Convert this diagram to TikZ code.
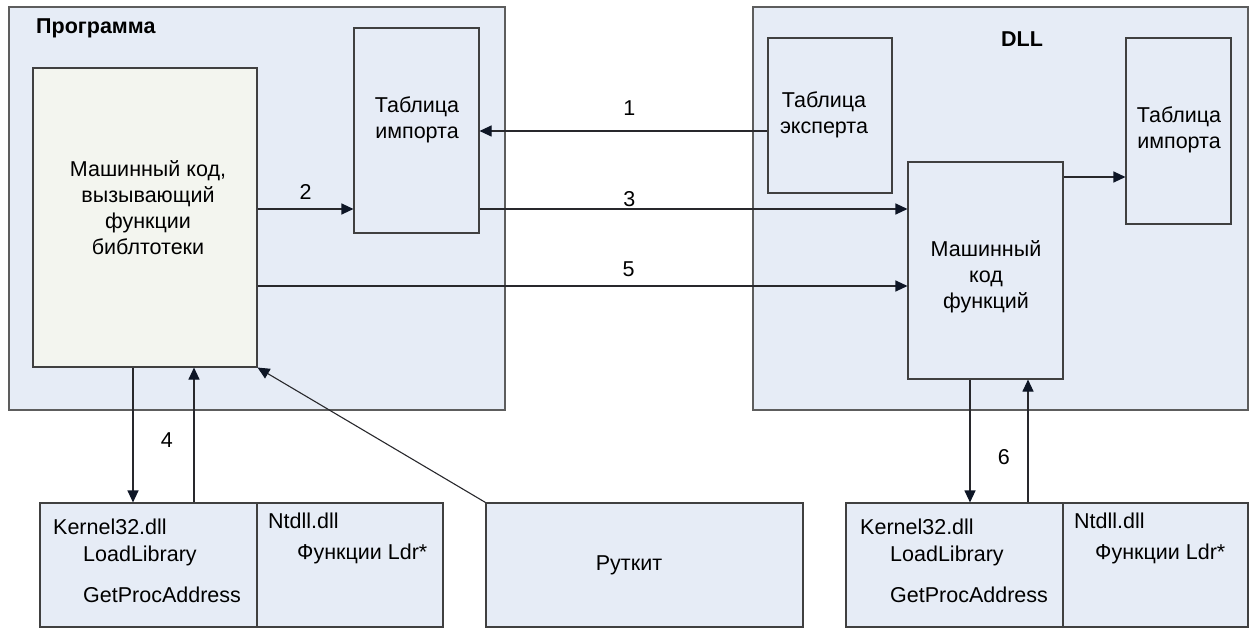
\documentclass[tikz,border=0pt]{standalone}
\usepackage{fontspec}
\setmainfont{Liberation Sans}
\usetikzlibrary{arrows.meta, positioning}
\newcommand\diagfont{\fontsize{21.5}{26}\selectfont}
\definecolor{panelblue}{RGB}{230,236,246}
\definecolor{codegreen}{RGB}{243,245,239}
\definecolor{edgegray}{RGB}{64,64,64}
\definecolor{linegray}{RGB}{40,40,44}
\definecolor{tipnavy}{RGB}{14,22,38}
\tikzstyle{panel} = [
  rectangle,
  draw=edgegray!85,
  fill=panelblue,
  line width=1.2pt,
  inner sep=0pt
]
\tikzstyle{block} = [
  rectangle,
  draw=edgegray,
  fill=panelblue,
  line width=1.1pt,
  inner sep=0pt
]
\tikzstyle{caption} = [align=center, font=\diagfont]
\tikzstyle{entry} = [anchor=base west, inner sep=0pt, font=\diagfont]
\tikzstyle{arrow} = [draw=linegray, line width=1.1pt, -{Triangle[length=12pt,width=11pt,color=tipnavy]}, font=\diagfont]

\begin{document}
\begin{tikzpicture}[x=1pt, y=-1pt]
    \useasboundingbox (0,0) rectangle (1249,628);
    % containers
    \node (program) [panel, minimum width=496pt, minimum height=403pt] at (257,208.5) {};
    \node (dll) [panel, minimum width=495pt, minimum height=403pt] at (1000.5,208.5) {};
    \node (program-title) [anchor=base west, inner sep=0pt, font=\diagfont\bfseries] at (36,34) {Программа};
    \node (dll-title) [anchor=base, inner sep=0pt, font=\diagfont\bfseries] at (1022,47) {DLL};

    % blocks inside the program
    \node (prog-code) [block, fill=codegreen, minimum width=224pt, minimum height=299pt] at (145,217.5) {};
    \node (prog-import) [block, minimum width=125pt, minimum height=205pt] at (416.5,130.5) {};
    \node (prog-code-text) [caption] at (148,208) {Машинный код,\\вызывающий\\функции\\библтотеки};
    \node (prog-import-text) [caption] at (417,120) {Таблица\\импорта};

    % blocks inside the dll
    \node (dll-export) [block, minimum width=124pt, minimum height=155pt] at (830,115.5) {};
    \node (dll-code) [block, minimum width=155pt, minimum height=217pt] at (985.5,270.5) {};
    \node (dll-import) [block, minimum width=105pt, minimum height=186pt] at (1178.5,131) {};
    \node (dll-export-text) [caption] at (824,115) {Таблица\\эксперта};
    \node (dll-code-text) [caption] at (986,277) {Машинный\\код\\функций};
    \node (dll-import-text) [caption] at (1179,130) {Таблица\\импорта};

    % system libraries and rootkit
    \node (k32-left) [block, minimum width=217pt, minimum height=124pt] at (148.5,565) {};
    \node (ntdll-left) [block, minimum width=186pt, minimum height=124pt] at (350,565) {};
    \node (rootkit) [block, minimum width=317pt, minimum height=124pt] at (644.5,565) {};
    \node (k32-right) [block, minimum width=217pt, minimum height=124pt] at (954.5,565) {};
    \node (ntdll-right) [block, minimum width=185pt, minimum height=124pt] at (1155.5,565) {};
    \node (rootkit-text) [caption] at (629,565) {Руткит};

    \node (k32-left-name) [entry] at (53,534) {Kernel32.dll};
    \node (k32-left-load) [entry] at (83,561) {LoadLibrary};
    \node (k32-left-proc) [entry] at (83,602) {GetProcAddress};
    \node (ntdll-left-name) [entry] at (268,528) {Ntdll.dll};
    \node (ntdll-left-ldr) [entry] at (297,559) {Функции Ldr*};
    \node (k32-right-name) [entry] at (860,534) {Kernel32.dll};
    \node (k32-right-load) [entry] at (890,561) {LoadLibrary};
    \node (k32-right-proc) [entry] at (890,602) {GetProcAddress};
    \node (ntdll-right-name) [entry] at (1074,528) {Ntdll.dll};
    \node (ntdll-right-ldr) [entry] at (1095,559) {Функции Ldr*};

    % rows and columns of the connectors
    \coordinate (row1) at (0,131);
    \coordinate (row2) at (0,209);
    \coordinate (row-dll) at (0,177);
    \coordinate (row5) at (0,286);
    \coordinate (col-a) at (133,0);
    \coordinate (col-b) at (194,0);
    \coordinate (col-c) at (970,0);
    \coordinate (col-d) at (1028,0);

    \draw [arrow] (dll-export.west |- row1) -- node[pos=0.48, above=12pt] {1} (prog-import.east |- row1);
    \draw [arrow] (prog-code.east |- row2) -- node[above=6pt] {2} (prog-import.west |- row2);
    \draw [arrow] (prog-import.east |- row2) -- node[pos=0.35, above=-2pt] {3} (dll-code.west |- row2);
    \draw [arrow] (prog-code.east |- row5) -- node[pos=0.571, above=5pt] {5} (dll-code.west |- row5);
    \draw [arrow] (dll-code.east |- row-dll) -- (dll-import.west |- row-dll);
    \draw [arrow] (prog-code.south -| col-a) -- node[pos=0.54, right=24pt] {4} (k32-left.north -| col-a);
    \draw [arrow] (k32-left.north -| col-b) -- (prog-code.south -| col-b);
    \draw [arrow] (dll-code.south -| col-c) -- node[pos=0.63, right=24pt] {6} (k32-right.north -| col-c);
    \draw [arrow] (k32-right.north -| col-d) -- (dll-code.south -| col-d);
    \draw [arrow] (rootkit.north west) -- (prog-code.south east);
  \end{tikzpicture}
\end{document}
